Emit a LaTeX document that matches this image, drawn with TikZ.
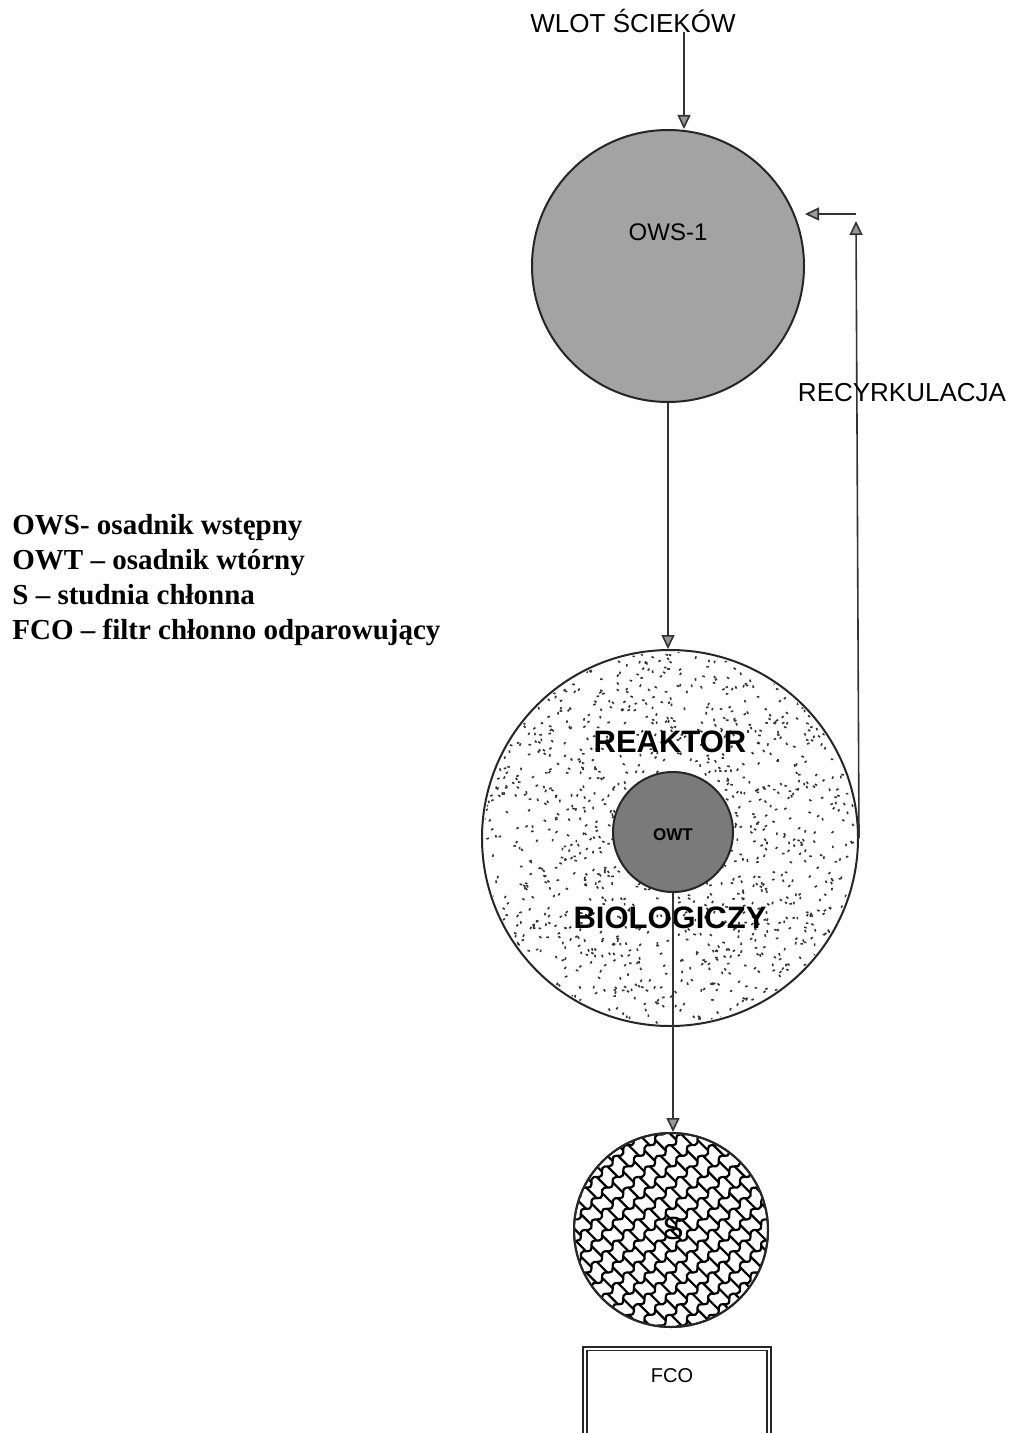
\documentclass[tikz,border=0pt]{standalone}
\usepackage{fontspec}
\setmainfont{Liberation Sans}
\newfontfamily\legendfont[Ligatures=TeX]{Liberation Serif}
\usetikzlibrary{arrows.meta,calc}
\begin{document}
\begin{tikzpicture}[x=0.5pt,y=-0.5pt,
  lbl/.style={inner sep=0pt, font=\fontsize{13}{15}\selectfont},
  biglbl/.style={inner sep=0pt, font=\bfseries\fontsize{15.5}{17}\selectfont},
  tank/.style={circle, draw=black!85, line width=1pt, inner sep=0pt},
  arr/.style={draw=black!80, line width=0.8pt,
    -{Triangle[length=7pt,width=6.5pt,fill=black!40]}}
]
\useasboundingbox (0,0) rectangle (1019,1433);
\fill[white] (0,0) rectangle (1019,1433);

% ---------- inlet ----------
\node[lbl] (wlot) at (633,21) {WLOT ŚCIEKÓW};
\coordinate (inTop) at (684,32);

% ---------- OWS ----------
\node[tank, fill=black!36, minimum size=136pt] (ows) at (668,266) {};
\node[inner sep=0pt, font=\fontsize{12}{14}\selectfont] (owsl) at (668,232) {OWS-1};

% ---------- reactor ----------
\node[tank, fill=white, minimum size=188pt] (reactor) at (670,838) {};
\begin{scope}
  \clip (670,838) circle[radius=186];
  \pgfmathsetseed{7}
  \foreach \i in {1,...,1500}{
    \pgfmathsetmacro\rx{670+188*rand}
    \pgfmathsetmacro\ry{838+188*rand}
    \pgfmathsetmacro\ra{180*rand}
    \fill[black!80, rotate around={\ra:(\rx,\ry)}] (\rx,\ry) rectangle ++(2.6,1.6);
  }
\end{scope}
\node[tank, fill=black!52, minimum size=60pt] (owt) at (673,832) {};
\node[inner sep=0pt, font=\bfseries\fontsize{8.5}{10}\selectfont] (owtl) at (673,835) {OWT};
\node[biglbl] (reak) at (670,742) {REAKTOR};
\node[biglbl] (biol) at (670,918) {BIOLOGICZY};

% ---------- S ----------
\node[tank, minimum size=97pt] (s) at (671,1230) {};
\begin{scope}
  \clip (671,1230) circle[radius=96];
  \begin{scope}[shift={(671,1230)}, rotate=45]
    \foreach \k in {-8,...,8}{
      \draw[line width=1.1pt] plot[domain=-140:140, samples=90, smooth]
        (\x, {\k*15 + 2.5*sin(\x*24)});
    }
    \foreach \m in {-8,...,7}{
      \foreach \k in {-9,...,9}{
        \pgfmathsetmacro\off{mod(\m+20,2)*7.5}
        \draw[line width=1.1pt] (\k*15+\off, \m*15) -- (\k*15+\off, \m*15+15);
      }
    }
  \end{scope}
\end{scope}
\node[tank, minimum size=97pt] at (671,1230) {};
\node[inner sep=0pt, font=\fontsize{16}{18}\selectfont] (sl) at (673,1228) {S};

% ---------- FCO ----------
\node[draw=black!85, double, double distance=1.2pt, line width=0.7pt,
  minimum width=92pt, minimum height=60pt, anchor=north, inner sep=0pt] (fco) at (677,1348) {};
\node[inner sep=0pt, font=\fontsize{10}{12}\selectfont] (fcol) at (672,1376) {FCO};

% ---------- connectors ----------
\draw[arr] (inTop) -- (inTop |- ows.north);
\draw[arr] (ows.south) -- (ows.south |- reactor.north);
\draw[arr] (owt.south) -- (owt.south |- s.north);
\coordinate (rc) at (856,214);
\draw[arr] (reactor.east) -- ([yshift=-3.5pt]rc);
\draw[arr] (rc) -- (rc -| ows.east);
\node[inner sep=0pt, font=\fontsize{13}{15}\selectfont] (recy) at (902,393) {RECYRKULACJA};

% ---------- legend ----------
\node[anchor=north west, inner sep=0pt, align=left,
  font=\legendfont\bfseries\fontsize{14.5}{17.5}\selectfont] (legend) at (12,514)
  {OWS- osadnik wstępny\\OWT – osadnik wtórny\\S – studnia chłonna\\FCO – filtr chłonno odparowujący};
\end{tikzpicture}
\end{document}
